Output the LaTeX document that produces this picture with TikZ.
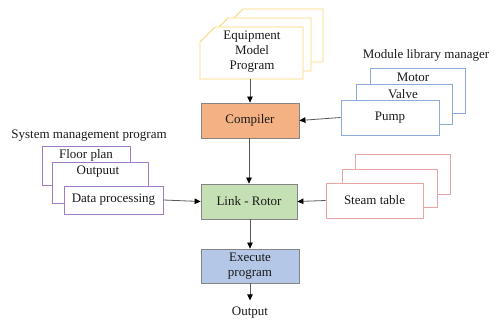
\documentclass[tikz,border=0pt]{standalone}
\usepackage{fontspec}
\setmainfont{Liberation Serif}
\usetikzlibrary{arrows.meta}
\definecolor{eqline}{HTML}{FAD570}
\definecolor{modline}{HTML}{8EA9DB}
\definecolor{sysline}{HTML}{A07CC5}
\definecolor{stline}{HTML}{E8A5A5}
\definecolor{compfill}{HTML}{F4B183}
\definecolor{linkfill}{HTML}{C5E0B4}
\definecolor{execfill}{HTML}{B4C7E7}
\definecolor{boxline}{HTML}{858585}
\definecolor{txt}{HTML}{1A1A1A}
\tikzset{
  proc/.style={draw=boxline, line width=0.8pt, minimum width=98pt, minimum height=35pt,
    inner sep=0pt, align=center, text=txt},
  card/.style={draw=#1, fill=white, line width=0.8pt},
  label/.style={inner sep=0pt, align=center, text=txt},
  link/.style={draw=gray!70!black, line width=0.8pt, -{Triangle[black,length=6pt,width=5.5pt]}}
}
\begin{document}
\begin{tikzpicture}[x=1pt, y=-1pt, font=\fontsize{13}{15}\selectfont]
\useasboundingbox (0,0) rectangle (498,323);

% equipment model program stack
\draw[card=eqline] (228,62) -- (228,24) -- (243,9) -- (323,9) -- (323,62) -- cycle;
\draw[card=eqline] (213,71) -- (213,33) -- (228,18) -- (311,18) -- (311,71) -- cycle;
\draw[card=eqline] (200,79) -- (200,42) -- (215,27) -- (303,27) -- (303,79) -- cycle;
\node[label] (eq) at (252,52) {Equipment\\Model\\Program};
\coordinate (eqb) at (250,79);

% main flow
\node[proc, fill=compfill] (comp) at (250,120.5) {Compiler};
\node[proc, fill=linkfill, minimum width=96pt] (link) at (249,201.5) {Link - Rotor};
\node[proc, fill=execfill, minimum height=34pt] (exec) at (250,266) {Execute\\program};
\node[label] (out) at (250,313) {Output};

% module library manager
\node[label] (modt) at (426,55) {Module library manager};
\draw[card=modline] (370,68) rectangle (465,113);
\node[label] (motor) at (413,77) {Motor};
\draw[card=modline] (356,84) rectangle (452,124);
\node[label] (valve) at (403,94) {Valve};
\node[card=modline, minimum width=98pt, minimum height=35pt, inner sep=0pt, text=txt] (pump) at (390,117.5) {Pump};

% system management program
\node[label] (syst) at (89,136) {System management program};
\draw[card=sysline] (42,146) rectangle (130,185);
\node[label] (floor) at (86,155) {Floor plan};
\draw[card=sysline] (52,162) rectangle (148,203);
\node[label] (outp) at (98,172) {Outpuut};
\node[card=sysline, minimum width=99pt, minimum height=28pt, inner sep=0pt, text=txt] (data) at (113.5,200) {Data processing};

% steam table stack
\draw[card=stline] (355,154) rectangle (450,194);
\draw[card=stline] (342,169) rectangle (437,207);
\node[card=stline, minimum width=97pt, minimum height=35pt, inner sep=0pt, text=txt] (steam) at (374.5,200.5) {Steam table};

% connectors
\draw[link] (eqb) -- (comp.north);
\draw[link] (comp.south -| link.north) -- (link.north);
\draw[link] (link.south -| exec.north) -- (exec.north);
\draw[link] (exec.south) -- ++(0,17);
\draw[link] (pump.west) -- (comp.east);
\draw[link] (data.east) -- (link.west);
\draw[link] (steam.west) -- (link.east);
\end{tikzpicture}
\end{document}
